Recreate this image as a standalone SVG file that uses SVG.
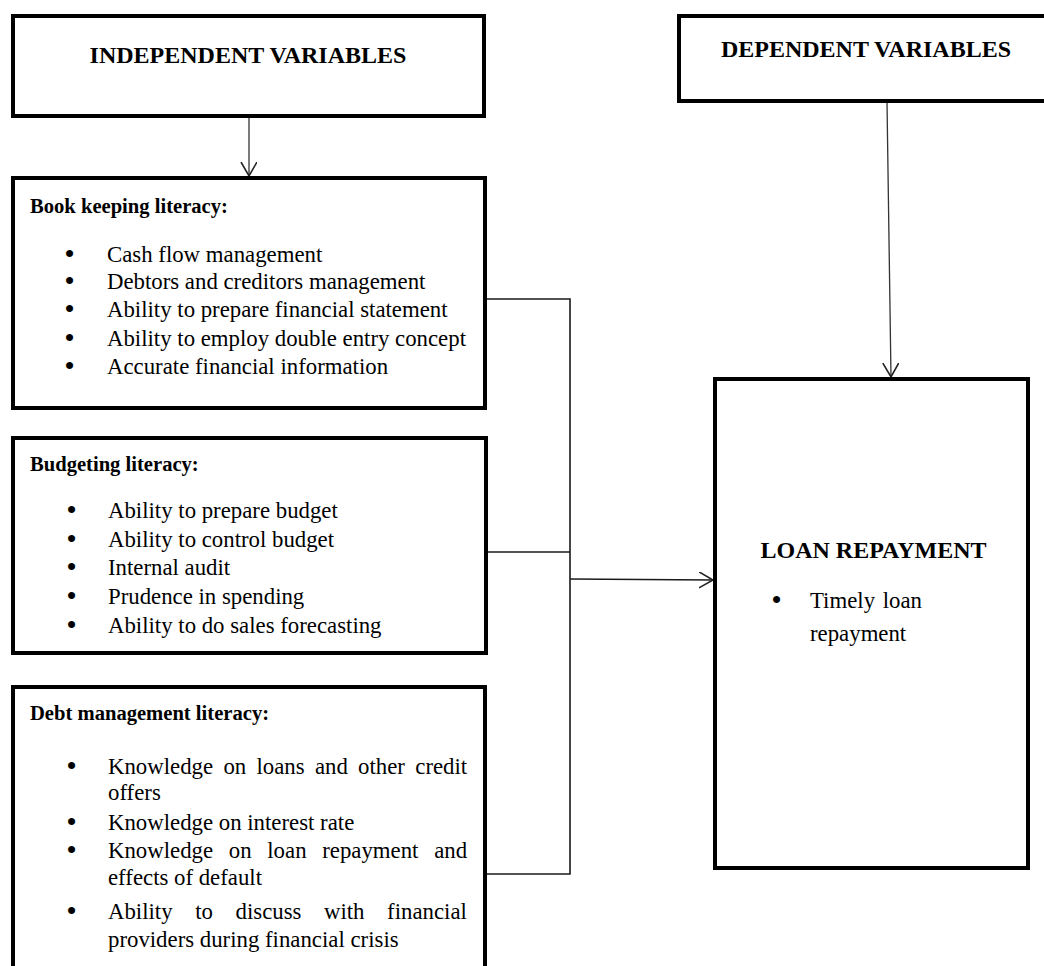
<svg xmlns="http://www.w3.org/2000/svg" width="1044" height="966" viewBox="0 0 1044 966">
<style>
.box{fill:#fff;stroke:#000;stroke-width:4}
.hdr{font-family:"Liberation Serif","Times New Roman",serif;font-weight:bold;font-size:24px;fill:#000}
.ttl{font-family:"Liberation Serif","Times New Roman",serif;font-weight:bold;font-size:20.6px;fill:#000}
.txt{font-family:"Liberation Serif","Times New Roman",serif;font-size:22.8px;fill:#000}
.bul{font-family:"Liberation Serif","Times New Roman",serif;font-size:26px;font-weight:bold;fill:#000}
.con{fill:none;stroke:#1a1a1a;stroke-width:1.6}
.arr{fill:none;stroke:#333;stroke-width:1.3}
</style>
<defs>
<marker id="open" markerUnits="userSpaceOnUse" markerWidth="16" markerHeight="18" refX="14" refY="8" orient="auto">
<path d="M0,0 L14,8 L0,16" fill="none" stroke="#222" stroke-width="1.6"/>
</marker>
</defs>
<rect width="1044" height="966" fill="#fff"/>
<g id="connectors">
<line class="arr" x1="249" y1="117" x2="249" y2="176" marker-end="url(#open)"/>
<line class="arr" x1="887" y1="102" x2="891" y2="377" marker-end="url(#open)"/>
<polyline class="con" points="486,299 570,299 570,874 486,874"/>
<line class="con" x1="486" y1="552" x2="570" y2="552"/>
<line class="con" x1="570" y1="579" x2="713" y2="580" marker-end="url(#open)"/>
</g>
<g id="independent">
<rect class="box" x="13" y="16" width="471" height="100"/>
<text class="hdr" x="248" y="63" text-anchor="middle">INDEPENDENT VARIABLES</text>
</g>
<g id="dependent">
<rect class="box" x="679" y="16" width="380" height="85"/>
<text class="hdr" x="866" y="57" text-anchor="middle">DEPENDENT VARIABLES</text>
</g>
<g id="bookkeeping">
<rect class="box" x="13" y="178" width="472" height="230"/>
<text class="ttl" x="30" y="213">Book keeping literacy:</text>
<text class="bul" x="65" y="262">•</text><text class="txt" x="107" y="262">Cash flow management</text>
<text class="bul" x="65" y="289">•</text><text class="txt" x="107" y="289">Debtors and creditors management</text>
<text class="bul" x="65" y="317">•</text><text class="txt" x="107" y="317">Ability to prepare financial statement</text>
<text class="bul" x="65" y="346">•</text><text class="txt" x="107" y="346">Ability to employ double entry concept</text>
<text class="bul" x="65" y="374">•</text><text class="txt" x="107" y="374">Accurate financial information</text>
</g>
<g id="budgeting">
<rect class="box" x="13" y="438" width="473" height="215"/>
<text class="ttl" x="30" y="471">Budgeting literacy:</text>
<text class="bul" x="67" y="518">•</text><text class="txt" x="108" y="518">Ability to prepare budget</text>
<text class="bul" x="67" y="547">•</text><text class="txt" x="108" y="547">Ability to control budget</text>
<text class="bul" x="67" y="575">•</text><text class="txt" x="108" y="575">Internal audit</text>
<text class="bul" x="67" y="604">•</text><text class="txt" x="108" y="604">Prudence in spending</text>
<text class="bul" x="67" y="633">•</text><text class="txt" x="108" y="633">Ability to do sales forecasting</text>
</g>
<g id="debt">
<rect class="box" x="13" y="687" width="472" height="300"/>
<text class="ttl" x="30" y="720">Debt management literacy:</text>
<text class="bul" x="67" y="774">•</text><text class="txt" x="108" y="774" word-spacing="4.6">Knowledge on loans and other credit</text>
<text class="txt" x="108" y="800">offers</text>
<text class="bul" x="67" y="830">•</text><text class="txt" x="108" y="830">Knowledge on interest rate</text>
<text class="bul" x="67" y="858">•</text><text class="txt" x="108" y="858" word-spacing="10">Knowledge on loan repayment and</text>
<text class="txt" x="108" y="885">effects of default</text>
<text class="bul" x="67" y="919">•</text><text class="txt" x="108" y="919" word-spacing="16.9">Ability to discuss with financial</text>
<text class="txt" x="108" y="947">providers during financial crisis</text>
</g>
<g id="loan">
<rect class="box" x="715" y="379" width="313" height="489"/>
<text class="hdr" x="873.5" y="558" text-anchor="middle">LOAN REPAYMENT</text>
<text class="bul" x="772" y="608">•</text><text class="txt" x="810" y="608" word-spacing="2">Timely loan</text>
<text class="txt" x="810" y="641">repayment</text>
</g>
</svg>
